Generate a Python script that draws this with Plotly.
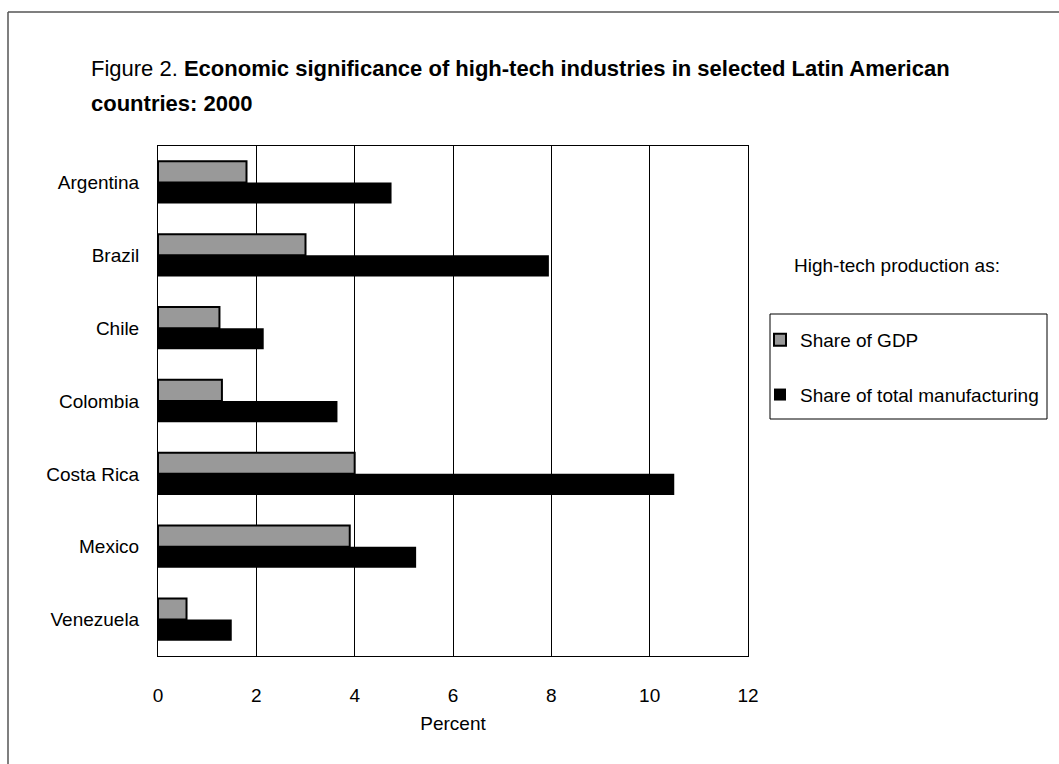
import plotly.graph_objects as go

# Countries shown on the category axis (top to bottom)
countries = ["Argentina", "Brazil", "Chile", "Colombia", "Costa Rica", "Mexico", "Venezuela"]

# High-tech production, percent
share_gdp = [1.8, 3.0, 1.25, 1.3, 4.0, 3.9, 0.58]
share_manufacturing = [4.75, 7.95, 2.15, 3.65, 10.5, 5.25, 1.5]

x_ticks = [0, 2, 4, 6, 8, 10, 12]

FONT = "Liberation Sans, Arial, Helvetica, sans-serif"

fig = go.Figure()
fig.add_trace(go.Bar(
    y=countries, x=share_gdp, orientation="h",
    name="Share of GDP", legendgroup="gdp",
    marker=dict(color="#999999", line=dict(color="#000000", width=2)),
))
fig.add_trace(go.Bar(
    y=countries, x=share_manufacturing, orientation="h",
    name="Share of total manufacturing", legendgroup="mfg",
    marker=dict(color="#000000", line=dict(color="#000000", width=0)),
))

W, H = 1059, 764
L, R, T, B = 158, 311, 146, 108
pw, ph = W - L - R, H - T - B


def px_x(px):
    return (px - L) / pw


def px_y(py):
    return (H - B - py) / ph


fig.update_layout(
    width=W, height=H,
    margin=dict(l=L, r=R, t=T, b=B, autoexpand=False),
    paper_bgcolor="white", plot_bgcolor="white",
    font=dict(family=FONT, size=19, color="#000000"),
    barmode="group", bargap=0.42, bargroupgap=0,
    showlegend=True,
    legend=dict(
        x=px_x(1044), xanchor="right",
        y=px_y(321), yanchor="top",
        borderwidth=0,
        bgcolor="rgba(0,0,0,0)",
        traceorder="grouped", tracegroupgap=27,
        font=dict(family=FONT, size=19),
    ),
    xaxis=dict(
        range=[0, 12], tickvals=x_ticks, ticktext=[str(v) for v in x_ticks],
        showgrid=True, gridcolor="#000000", gridwidth=1,
        showline=True, linecolor="#000000", linewidth=1, mirror=True,
        ticks="", ticklabelstandoff=22, zeroline=False,
        title=dict(text="Percent", standoff=11, font=dict(size=19)),
        fixedrange=True,
    ),
    yaxis=dict(
        autorange="reversed", categoryorder="array", categoryarray=countries,
        showgrid=False, showline=True, linecolor="#000000", linewidth=1, mirror=True,
        ticks="", ticklabelstandoff=14,
        fixedrange=True,
    ),
)

# Title, two lines
fig.add_annotation(
    xref="paper", yref="paper", x=px_x(89), y=px_y(68),
    xanchor="left", yanchor="middle", showarrow=False,
    text="Figure 2. <b>Economic significance of high-tech industries in selected Latin American</b>",
    font=dict(family=FONT, size=22),
)
fig.add_annotation(
    xref="paper", yref="paper", x=px_x(89), y=px_y(103),
    xanchor="left", yanchor="middle", showarrow=False,
    text="<b>countries: 2000</b>",
    font=dict(family=FONT, size=22),
)

# Heading above the legend box
fig.add_annotation(
    xref="paper", yref="paper", x=px_x(792), y=px_y(265),
    xanchor="left", yanchor="middle", showarrow=False,
    text="High-tech production as:",
    font=dict(family=FONT, size=19),
)

# Border of the legend box
fig.add_shape(type="rect", xref="paper", yref="paper",
              x0=px_x(770), x1=px_x(1047), y0=px_y(419), y1=px_y(314),
              line=dict(color="#000000", width=1), layer="below")

# Frame around the figure (top and left edges)
frame_color = "#555555"
fig.add_shape(type="line", xref="paper", yref="paper",
              x0=px_x(8), x1=px_x(W + 5), y0=px_y(12), y1=px_y(12),
              line=dict(color=frame_color, width=1.5))
fig.add_shape(type="line", xref="paper", yref="paper",
              x0=px_x(8), x1=px_x(8), y0=px_y(12), y1=px_y(H + 5),
              line=dict(color=frame_color, width=1.5))

fig.write_html("out.html")
